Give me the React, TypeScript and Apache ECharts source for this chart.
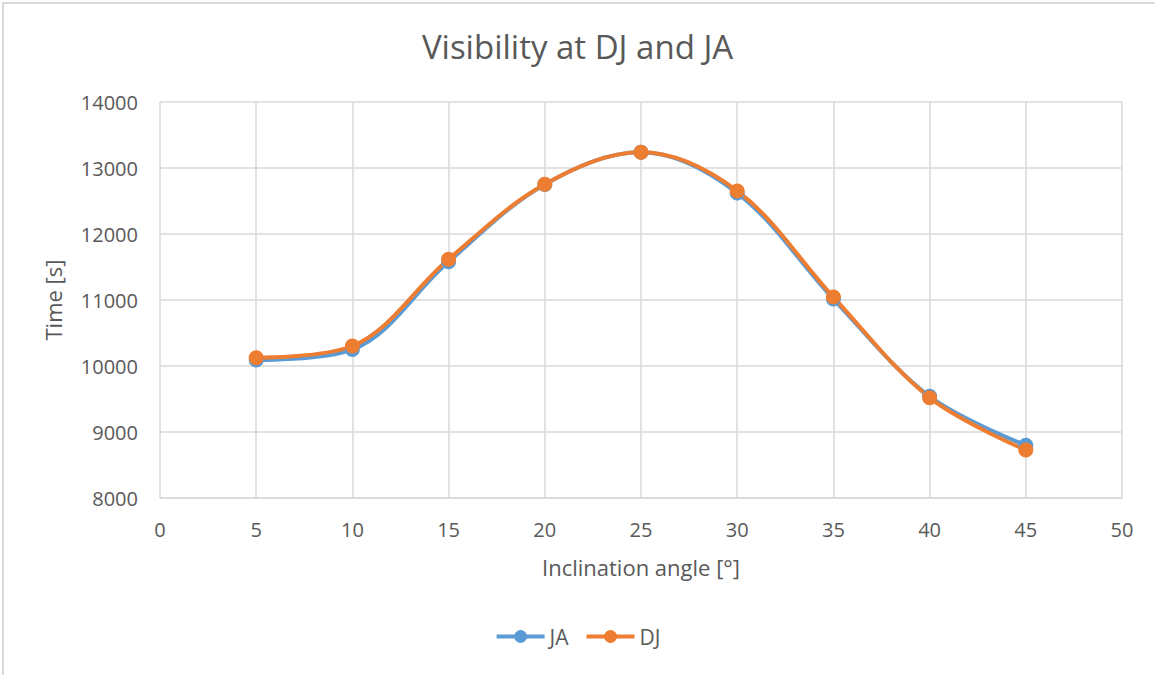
import React, { useEffect, useRef } from "react";
import * as echarts from "echarts";

// Inclination angle in degrees
const angles = [5, 10, 15, 20, 25, 30, 35, 40, 45];
// Visibility time in seconds at each station
const jaTimes = [10090, 10250, 11580, 12750, 13237, 12620, 11015, 9540, 8800];
const djTimes = [10125, 10303, 11617, 12753, 13237, 12652, 11045, 9520, 8727];

const FONT = "'Open Sans', sans-serif";
const TEXT = "#595959";
const GRID = "#d9d9d9";

export default function App() {
  const ref = useRef<HTMLDivElement>(null);

  useEffect(() => {
    document.body.style.margin = "0";
    if (!ref.current) return;
    const chart = echarts.init(ref.current, null, { renderer: "svg" });
    const pair = (ys: number[]) => angles.map((a, i) => [a, ys[i]]);
    chart.setOption({
      animation: false,
      backgroundColor: "#ffffff",
      textStyle: { fontFamily: FONT },
      title: {
        text: "Visibility at DJ and JA",
        left: "center",
        top: 25,
        textStyle: { fontFamily: FONT, fontSize: 33, fontWeight: "normal", color: TEXT },
      },
      grid: { left: 160, right: 33, top: 102, bottom: 177, containLabel: false },
      legend: {
        bottom: 23,
        left: "center",
        itemWidth: 48,
        itemHeight: 16,
        itemGap: 16,
        lineStyle: { width: 4 },
        textStyle: { fontFamily: FONT, fontSize: 21, color: TEXT },
        data: ["JA", "DJ"],
      },
      xAxis: {
        type: "value",
        min: 0,
        max: 50,
        interval: 5,
        name: "Inclination angle [°]",
        nameLocation: "middle",
        nameGap: 58,
        nameTextStyle: { fontFamily: FONT, fontSize: 22, color: TEXT },
        axisLine: { show: true, lineStyle: { color: GRID, width: 1.5 } },
        axisTick: { show: false },
        axisLabel: { fontFamily: FONT, fontSize: 20, color: TEXT, margin: 21 },
        splitLine: { show: true, lineStyle: { color: GRID, width: 1.5 } },
      },
      yAxis: {
        type: "value",
        min: 8000,
        max: 14000,
        interval: 1000,
        name: "Time [s]",
        nameLocation: "middle",
        nameGap: 96,
        nameRotate: 90,
        nameTextStyle: { fontFamily: FONT, fontSize: 22, color: TEXT },
        axisLine: { show: false },
        axisTick: { show: false },
        axisLabel: {
          fontFamily: FONT,
          fontSize: 20,
          color: TEXT,
          margin: 22,
          formatter: (v: number) => String(v),
        },
        splitLine: { show: true, lineStyle: { color: GRID, width: 1.5 } },
      },
      series: [
        {
          name: "JA",
          type: "line",
          data: pair(jaTimes),
          smooth: 0.35,
          symbol: "circle",
          symbolSize: 15,
          itemStyle: { color: "#5B9BD5" },
          lineStyle: { color: "#5B9BD5", width: 4 },
        },
        {
          name: "DJ",
          type: "line",
          data: pair(djTimes),
          smooth: 0.35,
          symbol: "circle",
          symbolSize: 15,
          itemStyle: { color: "#ED7D31" },
          lineStyle: { color: "#ED7D31", width: 4 },
        },
      ],
      graphic: [
        {
          type: "rect",
          silent: true,
          shape: { x: 3, y: 3, width: 1170, height: 690 },
          style: { fill: "none", stroke: GRID, lineWidth: 2 },
        },
      ],
    });
    return () => chart.dispose();
  }, []);

  return <div ref={ref} style={{ width: 1155, height: 675 }} />;
}
